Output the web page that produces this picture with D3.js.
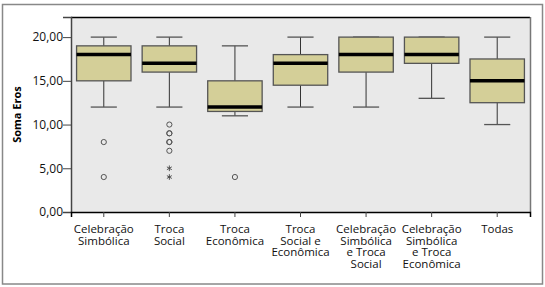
<!DOCTYPE html>
<html>
<head>
<meta charset="utf-8">
<script src="https://cdn.jsdelivr.net/npm/d3@7"></script>
<style>
  body { margin: 0; background: #fff; }
  text { font-family: "Open Sans", "Liberation Sans", sans-serif; }
</style>
</head>
<body>
<div id="chart"></div>
<script>
// categories (label lines)
var categories = [
    ["Celebração", "Simbólica"],
    ["Troca", "Social"],
    ["Troca", "Econômica"],
    ["Troca", "Social e", "Econômica"],
    ["Celebração", "Simbólica", "e Troca", "Social"],
    ["Celebração", "Simbólica", "e Troca", "Econômica"],
    ["Todas"]
];
var whiskerLow  = [12, 12, 11, 12, 12, 13, 10];
var q1          = [15, 16, 11.5, 14.5, 16, 17, 12.5];
var medians     = [18, 17, 12, 17, 18, 18, 15];
var q3          = [19, 19, 15, 18, 20, 20, 17.5];
var whiskerHigh = [20, 20, 19, 20, 20, 20, 20];
// outliers (circles, repeated cases drawn on top of each other) and extremes (stars)
var outliers = [[8, 4], [10, 9, 9, 8, 8, 7], [4], [], [], [], []];
var extremes = [[], [5, 4], [], [], [], [], []];
var yTicks = [0, 5, 10, 15, 20];

var W = 545, H = 287;
var margin = { top: 17, right: 15, bottom: 75, left: 71 };
var width = W - margin.left - margin.right;
var height = H - margin.top - margin.bottom;

var svg = d3.select("#chart").append("svg")
    .attr("width", W)
    .attr("height", H);

// outer frame
svg.append("rect")
    .attr("x", 2.5).attr("y", 4.5)
    .attr("width", 540).attr("height", 279.5)
    .attr("fill", "none")
    .attr("stroke", "#888")
    .attr("stroke-width", 1.5);

var g = svg.append("g")
    .attr("transform", "translate(" + margin.left + "," + margin.top + ")");

var x = d3.scaleBand()
    .domain(d3.range(categories.length))
    .range([0, width]);

var y = d3.scaleLinear()
    .domain([0, 22.3])
    .range([height, 0]);

// plot background
g.append("rect")
    .attr("width", width).attr("height", height)
    .attr("fill", "#e9e9e9");
g.append("line")
    .attr("x1", 0).attr("x2", width).attr("y1", 0.5).attr("y2", 0.5)
    .attr("stroke", "#000").attr("stroke-width", 1.5);
g.append("line")
    .attr("x1", width + 0.5).attr("x2", width + 0.5).attr("y1", 0).attr("y2", height)
    .attr("stroke", "#777").attr("stroke-width", 1.5);

var boxW = x.bandwidth() * 0.83;
var capW = boxW * 0.48;

var boxes = g.selectAll(".box")
    .data(d3.range(categories.length))
    .enter().append("g")
    .attr("class", "box")
    .attr("transform", function (i) { return "translate(" + (x(i) + x.bandwidth() / 2) + ",0)"; });

// whiskers
boxes.append("line")
    .attr("x1", 0).attr("x2", 0)
    .attr("y1", function (i) { return y(whiskerHigh[i]); })
    .attr("y2", function (i) { return y(q3[i]); })
    .attr("stroke", "#333");
boxes.append("line")
    .attr("x1", 0).attr("x2", 0)
    .attr("y1", function (i) { return y(q1[i]); })
    .attr("y2", function (i) { return y(whiskerLow[i]); })
    .attr("stroke", "#333");
boxes.append("line")
    .attr("x1", -capW / 2).attr("x2", capW / 2)
    .attr("y1", function (i) { return y(whiskerHigh[i]); })
    .attr("y2", function (i) { return y(whiskerHigh[i]); })
    .attr("stroke", "#555").attr("stroke-width", 1.3);
boxes.append("line")
    .attr("x1", -capW / 2).attr("x2", capW / 2)
    .attr("y1", function (i) { return y(whiskerLow[i]); })
    .attr("y2", function (i) { return y(whiskerLow[i]); })
    .attr("stroke", "#555").attr("stroke-width", 1.3);

// box
boxes.append("rect")
    .attr("x", -boxW / 2)
    .attr("width", boxW)
    .attr("y", function (i) { return y(q3[i]); })
    .attr("height", function (i) { return y(q1[i]) - y(q3[i]); })
    .attr("fill", "#d4cf98")
    .attr("stroke", "#555")
    .attr("stroke-width", 1.3);

// median
boxes.append("line")
    .attr("x1", -boxW / 2).attr("x2", boxW / 2)
    .attr("y1", function (i) { return y(medians[i]); })
    .attr("y2", function (i) { return y(medians[i]); })
    .attr("stroke", "#000").attr("stroke-width", 3.5);

// outliers and extremes
var star = d3.symbol().type(d3.symbolAsterisk || d3.symbolCross).size(22);
boxes.each(function (i) {
    var b = d3.select(this);
    b.selectAll(".out")
        .data(outliers[i])
        .enter().append("circle")
        .attr("cx", 0)
        .attr("cy", function (d) { return y(d); })
        .attr("r", 2.6)
        .attr("fill", "none")
        .attr("stroke", "#555");
    b.selectAll(".ext")
        .data(extremes[i])
        .enter().append("path")
        .attr("d", star)
        .attr("transform", function (d) { return "translate(0," + y(d) + ")"; })
        .attr("fill", "none")
        .attr("stroke", "#444")
        .attr("stroke-width", 0.9);
});

// y axis
var yAxis = g.append("g")
    .call(d3.axisLeft(y).tickValues(yTicks).tickSize(8)
        .tickFormat(function (d) { return d3.format(".2f")(d).replace(".", ","); }));
yAxis.select(".domain").attr("stroke", "#444").attr("stroke-width", 1.5);
yAxis.selectAll(".tick line").attr("stroke", "#444");
yAxis.selectAll(".tick text")
    .attr("x", -8)
    .style("font-size", "12px")
    .attr("fill", "#111");

// x axis
var xAxis = g.append("g")
    .attr("transform", "translate(0," + height + ")")
    .call(d3.axisBottom(x).tickSize(5).tickFormat(""));
xAxis.select(".domain").attr("stroke", "#000").attr("stroke-width", 1.5);
xAxis.selectAll(".tick line").attr("stroke", "#444");

xAxis.selectAll(".tick").append("text")
    .attr("text-anchor", "middle")
    .attr("fill", "#111")
    .style("font-size", "11.5px")
    .selectAll("tspan")
    .data(function (i) { return categories[i]; })
    .enter().append("tspan")
    .attr("x", 0)
    .attr("y", function (d, k) { return 21 + k * 11.7; })
    .text(function (d) { return d; });

// y label
svg.append("text")
    .attr("transform", "translate(21," + (margin.top + height / 2) + ") rotate(-90)")
    .attr("text-anchor", "middle")
    .style("font-size", "11px")
    .style("font-weight", "bold")
    .text("Soma Eros");
</script>
</body>
</html>
